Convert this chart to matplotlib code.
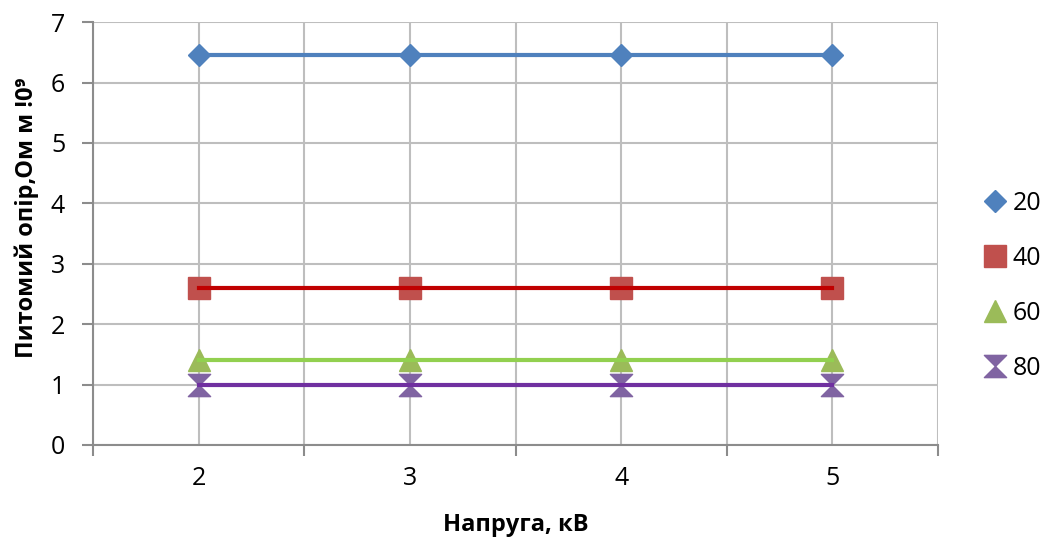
import matplotlib
matplotlib.use("Agg")
import matplotlib.pyplot as plt
from matplotlib.path import Path
from matplotlib.lines import Line2D
from matplotlib.ticker import FixedLocator, NullFormatter

plt.rcParams['font.family'] = ['Open Sans', 'DejaVu Sans']

# data
voltage = [2, 3, 4, 5]
series_names = ['20', '40', '60', '80']
res_20 = [6.45, 6.45, 6.45, 6.45]
res_40 = [2.6, 2.6, 2.6, 2.6]
res_60 = [1.4, 1.4, 1.4, 1.4]
res_80 = [1.0, 1.0, 1.0, 1.0]

# Excel-like hourglass marker
hourglass = Path([(-1, 1), (1, 1), (0, 0), (1, -1), (-1, -1), (0, 0), (-1, 1)],
                 [Path.MOVETO, Path.LINETO, Path.LINETO, Path.LINETO,
                  Path.LINETO, Path.LINETO, Path.CLOSEPOLY])

styles = [
    (res_20, '#4F81BD', '#4F81BD', 'D', 11),
    (res_40, '#C0504D', '#C00000', 's', 16),
    (res_60, '#9BBB59', '#92D050', '^', 16),
    (res_80, '#8064A2', '#7030A0', hourglass, 16),
]

fig = plt.figure(figsize=(10.47, 5.4), dpi=100)
ax = fig.add_axes([0.0888, 0.176, 0.8072, 0.783])

handles = []
for (vals, mcol, lcol, mk, ms), name in zip(styles, series_names):
    ax.plot(voltage, vals, linestyle='none', marker=mk, markersize=ms,
            markerfacecolor=mcol, markeredgecolor=mcol, zorder=3)
    ax.plot(voltage, vals, color=lcol, linewidth=3, zorder=4)
    handles.append(Line2D([], [], linestyle='none', marker=mk, markersize=ms,
                          markerfacecolor=mcol, markeredgecolor=mcol, label=name))

ax.set_xlim(1.5, 5.5)
ax.set_ylim(0, 7)

grid_col = '#BEBEBE'
axis_col = '#8C8C8C'

ax.xaxis.set_major_locator(FixedLocator([1.5, 2.5, 3.5, 4.5, 5.5]))
ax.xaxis.set_major_formatter(NullFormatter())
ax.xaxis.set_minor_locator(FixedLocator(voltage))
ax.set_xticklabels([str(v) for v in voltage], minor=True)
ax.tick_params(axis='x', which='major', length=8, width=1.5, color=axis_col, direction='out')
ax.tick_params(axis='x', which='minor', length=0, pad=15, labelsize=18)
ax.set_yticks(range(0, 8))
ax.tick_params(axis='y', length=8, width=1.5, color=axis_col, direction='out', pad=12, labelsize=18)

ax.grid(True, axis='x', which='both', color=grid_col, linewidth=1.5)
ax.grid(True, axis='y', which='major', color=grid_col, linewidth=1.5)
ax.set_axisbelow(True)

for side in ['top', 'right']:
    ax.spines[side].set_visible(False)
for side in ['left', 'bottom']:
    ax.spines[side].set_color(axis_col)
    ax.spines[side].set_linewidth(1.5)

ax.set_xlabel('Напруга, кВ', fontsize=17, fontweight='bold', labelpad=16)
ax.set_ylabel('Питомий опір,Ом м !0⁹', fontsize=17, fontweight='bold')
ax.yaxis.set_label_coords(-0.064, 0.537)

fig.legend(handles=handles, loc='center left', bbox_to_anchor=(0.941, 0.471),
           frameon=False, fontsize=18, labelspacing=1.2, handlelength=0.8,
           handletextpad=0.3, borderpad=0, borderaxespad=0)

fig.savefig('out.png', dpi=100)
